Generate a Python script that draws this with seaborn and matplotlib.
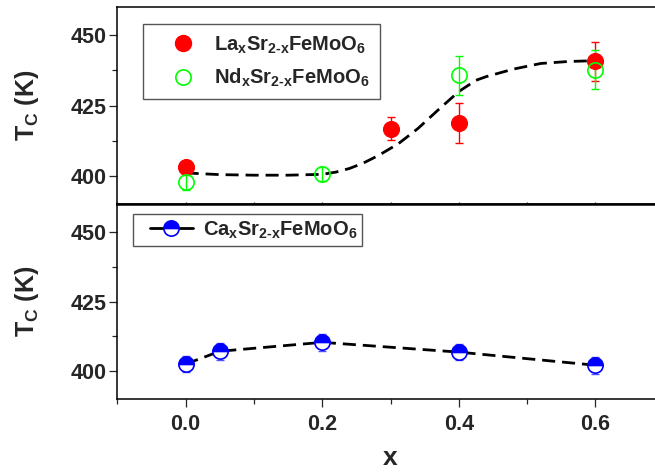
import matplotlib
matplotlib.use("Agg")
import matplotlib.pyplot as plt
from matplotlib.lines import Line2D
from matplotlib.legend_handler import HandlerLine2D
from matplotlib.ticker import MultipleLocator, FixedLocator
import seaborn as sns
import pandas as pd

# La-doped series
la_x = [0.0, 0.3, 0.4, 0.6]
la_tc = [403.2, 416.8, 418.8, 440.8]
la_err = [2.0, 4.0, 7.0, 7.0]

# Nd-doped series
nd_x = [0.0, 0.2, 0.4, 0.6]
nd_tc = [397.6, 400.6, 435.8, 437.8]
nd_err = [2.5, 2.5, 7.0, 7.0]

# guide-to-the-eye curve through the La/Nd data
guide_x = [0.0, 0.05, 0.1, 0.15, 0.2, 0.22, 0.24, 0.26, 0.283, 0.312, 0.34,
           0.37, 0.40, 0.425, 0.44, 0.48, 0.52, 0.56, 0.6]
guide_tc = [401.0, 400.4, 400.2, 400.2, 400.5, 401.3, 402.6, 404.5, 407.3, 411.5,
            416.8, 423.5, 430.0, 434.0, 435.3, 438.0, 440.0, 440.7, 441.0]

# Ca-doped series
ca_x = [0.0, 0.05, 0.2, 0.4, 0.6]
ca_tc = [402.6, 407.2, 410.4, 406.9, 402.2]
ca_err = [3.0, 3.0, 3.0, 3.0, 3.0]

x_ticks = [0.0, 0.2, 0.4, 0.6]
y_ticks = [400, 425, 450]

HY = "\u2010"
la_label = r"La$_x$Sr$_{2" + HY + r"x}$FeMoO$_6$"
nd_label = r"Nd$_x$Sr$_{2" + HY + r"x}$FeMoO$_6$"
ca_label = r"Ca$_x$Sr$_{2" + HY + r"x}$FeMoO$_6$"

sns.set_theme(style="ticks")
plt.rcParams.update({
    "font.family": ["Liberation Sans", "DejaVu Sans"],
    "font.weight": "bold",
    "mathtext.fontset": "custom",
    "mathtext.rm": "Liberation Sans:bold",
    "mathtext.it": "Liberation Sans:bold",
    "mathtext.bf": "Liberation Sans:bold",
    "mathtext.sf": "Liberation Sans:bold",
    "axes.linewidth": 1.1,
    "axes.edgecolor": "black",
})

TICK_FS = 15.5
LEG_FS = 14.5
LAB_FS = 18

fig = plt.figure(figsize=(6.55, 4.73), dpi=100)
ax_top = fig.add_axes([0.1791, 0.5691, 0.8342, 0.4154])
ax_bot = fig.add_axes([0.1791, 0.1558, 0.8342, 0.4133])

DASH = (4.7, 2.5)

# ---- upper panel: La and Nd ----
guide = pd.DataFrame({"x": guide_x, "tc": guide_tc})
sns.lineplot(data=guide, x="x", y="tc", ax=ax_top, color="black", lw=2.0,
             estimator=None, sort=False, legend=False)
ax_top.lines[-1].set_dashes(DASH)

ax_top.errorbar(la_x, la_tc, yerr=la_err, fmt="none", ecolor="red",
                elinewidth=1.0, capsize=3.2, capthick=1.0, zorder=3)
ax_top.errorbar(nd_x, nd_tc, yerr=nd_err, fmt="none", ecolor="lime",
                elinewidth=1.0, capsize=3.2, capthick=1.0, zorder=3)

la_df = pd.DataFrame({"x": la_x, "tc": la_tc})
nd_df = pd.DataFrame({"x": nd_x, "tc": nd_tc})
sns.lineplot(data=la_df, x="x", y="tc", ax=ax_top, lw=0, marker="o",
             markersize=11.5, color="red", markerfacecolor="red",
             markeredgecolor="red", markeredgewidth=0.8, estimator=None,
             legend=False, zorder=4)
sns.lineplot(data=nd_df, x="x", y="tc", ax=ax_top, lw=0, marker="o",
             markersize=11, color="lime", markerfacecolor="none",
             markeredgecolor="lime", markeredgewidth=1.2, estimator=None,
             legend=False, zorder=5)

# ---- lower panel: Ca ----
ca_df = pd.DataFrame({"x": ca_x, "tc": ca_tc})
ax_bot.errorbar(ca_x, ca_tc, yerr=ca_err, fmt="none", ecolor="#5050ff",
                elinewidth=1.0, capsize=3.2, capthick=1.0, zorder=3)
sns.lineplot(data=ca_df, x="x", y="tc", ax=ax_bot, color="black", lw=2.0,
             marker="o", markersize=11, fillstyle="top",
             markerfacecolor="blue", markerfacecoloralt="white",
             markeredgecolor="blue", markeredgewidth=1.2,
             estimator=None, legend=False, zorder=4)
ax_bot.lines[-1].set_dashes(DASH)

for ax in (ax_top, ax_bot):
    ax.set_xlim(-0.1, 0.7)
    ax.set_ylim(390, 460)
    ax.yaxis.set_major_locator(FixedLocator(y_ticks))
    ax.yaxis.set_minor_locator(FixedLocator([412.5, 437.5]))
    ax.xaxis.set_major_locator(FixedLocator(x_ticks))
    ax.xaxis.set_minor_locator(MultipleLocator(0.1))
    ax.tick_params(axis="y", which="major", direction="out", length=5.5,
                   width=0.9, labelsize=TICK_FS, pad=2, right=False)
    ax.tick_params(axis="y", which="minor", direction="out", length=3.5,
                   width=0.9, right=False)
    for lab in ax.get_yticklabels():
        lab.set_fontweight("bold")
    ax.set_ylabel(r"T$_C$ (K)", fontsize=LAB_FS, fontweight="bold")
    ax.yaxis.set_label_coords(-0.14, 0.5)
    ax.spines["right"].set_visible(False)

ax_top.tick_params(axis="x", which="both", direction="inout", length=2.5,
                   width=0.9, labelbottom=False, top=False)
ax_top.set_xlabel("")
ax_bot.tick_params(axis="x", which="major", direction="out", length=5.5,
                   width=0.9, labelsize=TICK_FS, pad=5, top=False)
ax_bot.tick_params(axis="x", which="minor", direction="out", length=3.5,
                   width=0.9, top=False)
for lab in ax_bot.get_xticklabels():
    lab.set_fontweight("bold")
ax_bot.set_xlabel("x", fontsize=19, fontweight="bold", labelpad=8)
ax_bot.spines["top"].set_linewidth(1.8)

# ---- legends ----
h_la = Line2D([], [], lw=0, marker="o", markersize=11.5, color="red",
              markerfacecolor="red", markeredgecolor="red")
h_nd = Line2D([], [], lw=0, marker="o", markersize=11, color="lime",
              markerfacecolor="none", markeredgecolor="lime", markeredgewidth=1.2)
leg1 = ax_top.legend([h_la, h_nd], [la_label, nd_label],
                     loc="upper left", bbox_to_anchor=(0.0465, 0.9135),
                     borderaxespad=0, fontsize=LEG_FS, frameon=True,
                     fancybox=False, edgecolor="#555555", framealpha=1,
                     borderpad=0.5, handlelength=3.0, handletextpad=0.05,
                     labelspacing=0.55)
leg1.get_frame().set_linewidth(1.0)

h_ca = Line2D([], [], color="black", lw=2.0, marker="o",
              markersize=11, fillstyle="top", markerfacecolor="blue",
              markerfacecoloralt="white", markeredgecolor="blue",
              markeredgewidth=1.2)
leg2 = ax_bot.legend([h_ca], [ca_label],
                     loc="upper left", bbox_to_anchor=(0.029, 0.947),
                     borderaxespad=0, fontsize=LEG_FS, frameon=True,
                     fancybox=False, edgecolor="#555555", framealpha=1,
                     borderpad=0.25, handlelength=2.7, handletextpad=0.5,
                     handler_map={h_ca: HandlerLine2D(xpad=0.6)})
leg2.get_frame().set_linewidth(1.0)

fig.savefig("out.png", dpi=100)
